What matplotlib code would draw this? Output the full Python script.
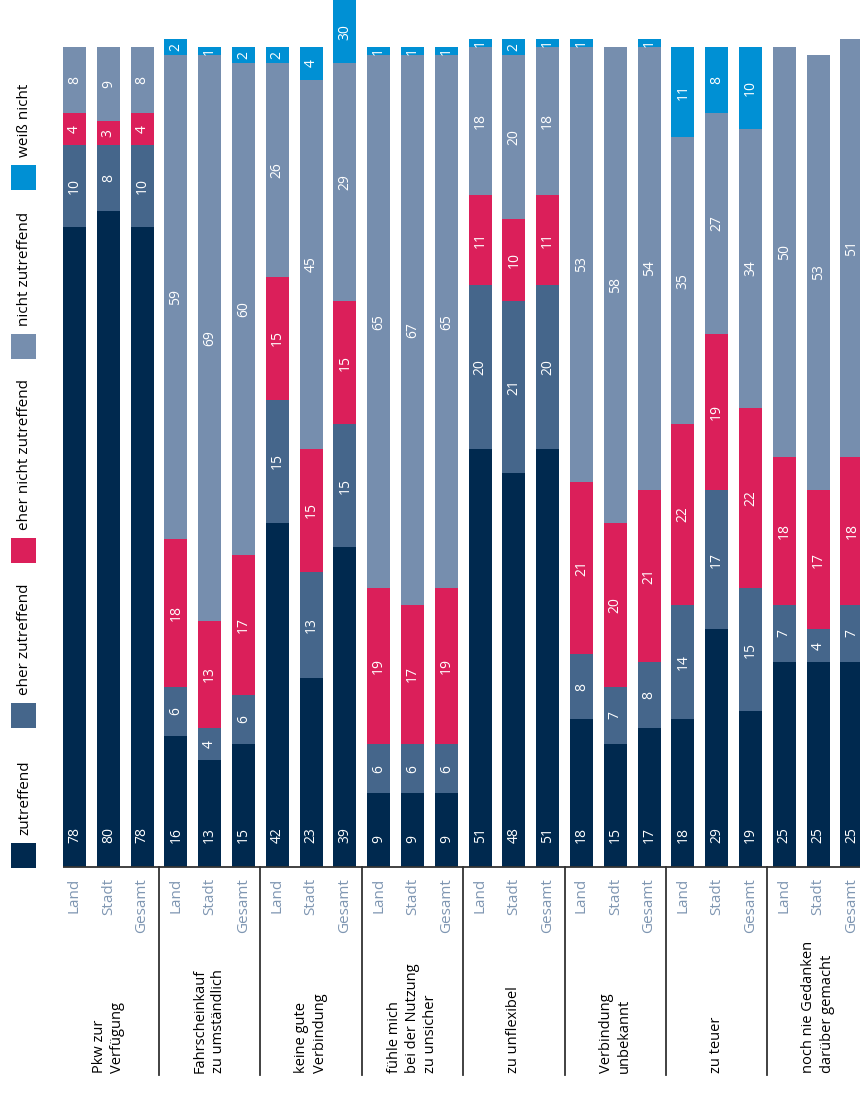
import matplotlib
matplotlib.use("Agg")
import matplotlib.pyplot as plt
from matplotlib.patches import Rectangle
from matplotlib.lines import Line2D
import matplotlib.transforms as mtransforms
import numpy as np

plt.rcParams['font.family'] = ['Open Sans', 'DejaVu Sans']

# ---------------- data ----------------
groups = ["Pkw zur\nVerfügung",
          "Fahrscheinkauf\nzu umständlich",
          "keine gute\nVerbindung",
          "fühle mich\nbei der Nutzung\nzu unsicher",
          "zu unflexibel",
          "Verbindung\nunbekannt",
          "zu teuer",
          "noch nie Gedanken\ndarüber gemacht"]
subcats = ["Land", "Stadt", "Gesamt"]
series_names = ["zutreffend", "eher zutreffend", "eher nicht zutreffend",
                "nicht zutreffend", "weiß nicht"]

zutreffend      = [78, 80, 78, 16, 13, 15, 42, 23, 39, 9, 9, 9,
                   51, 48, 51, 18, 15, 17, 18, 29, 19, 25, 25, 25]
eher_zutreffend = [10, 8, 10, 6, 4, 6, 15, 13, 15, 6, 6, 6,
                   20, 21, 20, 8, 7, 8, 14, 17, 15, 7, 4, 7]
eher_nicht      = [4, 3, 4, 18, 13, 17, 15, 15, 15, 19, 17, 19,
                   11, 10, 11, 21, 20, 21, 22, 19, 22, 18, 17, 18]
nicht_zutr      = [8, 9, 8, 59, 69, 60, 26, 45, 29, 65, 67, 65,
                   18, 20, 18, 53, 58, 54, 35, 27, 34, 50, 53, 51]
weiss_nicht     = [0, 0, 0, 2, 1, 2, 2, 4, 30, 1, 1, 1,
                   1, 2, 1, 1, 0, 1, 11, 8, 10, 0, 0, 0]

series = [zutreffend, eher_zutreffend, eher_nicht, nicht_zutr, weiss_nicht]
colors = ['#00294f', '#45668b', '#db1f5a', '#768eae', '#0090d4']
tick_color = '#7f96b2'

# ---------------- figure ----------------
W, H = 860, 1095
fig = plt.figure(figsize=(W / 100, H / 100), dpi=100)

base_px = 867          # baseline pixel row (from top)
px_per_unit = 8.2
step_px = 33.8
first_px = 74.5
ax = fig.add_axes([0, (H - base_px) / H, 1, base_px / H])
ax.set_xlim(-first_px / step_px, (W - first_px) / step_px)
ax.set_ylim(0, base_px / px_per_unit)
ax.axis('off')

n = len(zutreffend)
x = np.arange(n)
bw = 23 / step_px
ytop = base_px / px_per_unit

bottom = np.zeros(n)
for si, (vals, col) in enumerate(zip(series, colors)):
    vals = np.array(vals, dtype=float)
    ax.bar(x, vals, bw, bottom=bottom, color=col, linewidth=0)
    for i in range(n):
        v = vals[i]
        if v <= 0:
            continue
        if si == 0:
            ax.text(x[i], 24 / px_per_unit, f"{int(v)}", rotation=90,
                    ha='center', va='bottom', color='white', fontsize=10)
        else:
            lo = bottom[i]
            hi = min(bottom[i] + v, ytop)
            ax.text(x[i], (lo + hi) / 2, f"{int(v)}", rotation=90,
                    ha='center', va='center', color='white', fontsize=10)
    bottom += vals

# baseline
ax.plot([-bw / 2 - 0.0, (W - first_px) / step_px], [0, 0], color='#333333',
        lw=1.3, clip_on=False, solid_capstyle='butt')

trans = mtransforms.blended_transform_factory(ax.transData, fig.transFigure)
# group separators
for g in range(1, len(groups)):
    xs = g * 3 - 0.5
    fig.add_artist(Line2D([xs, xs], [(H - base_px) / H, (H - 1075) / H],
                          transform=trans, color='#333333', lw=1.3))

# sub-category tick labels
for i in range(n):
    ax.text(x[i], (H - 878) / H, subcats[i % 3], transform=trans, rotation=90,
            ha='center', va='top', color=tick_color, fontsize=11)

# group labels
for g, name in enumerate(groups):
    ax.text(g * 3 + 1, (H - 1073) / H, name, transform=trans, rotation=90,
            ha='center', va='bottom', multialignment='left', color='black',
            fontsize=10.5, linespacing=1.3)

# legend
sq_tops = [843, 703, 538, 334, 165]
for name, col, top in zip(series_names, colors, sq_tops):
    fig.add_artist(Rectangle((11 / W, (H - top - 25) / H), 25 / W, 25 / H,
                             transform=fig.transFigure, color=col, lw=0))
    fig.text(24.5 / W, (H - top + 8) / H, name, rotation=90, ha='center',
             va='bottom', fontsize=11, color='black')

fig.savefig("out.png", dpi=100)
